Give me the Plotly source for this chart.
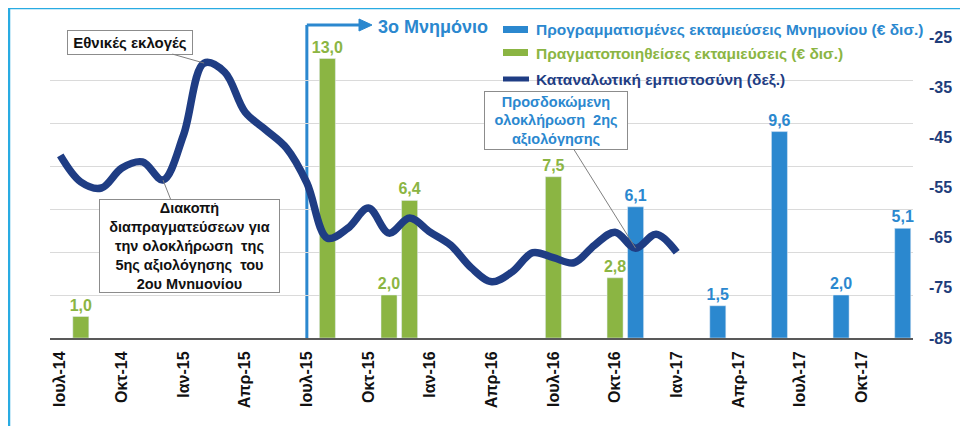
import plotly.graph_objects as go

# ---------------- data ----------------
months = ["Ιουλ-14", "Αυγ-14", "Σεπ-14", "Οκτ-14", "Νοε-14", "Δεκ-14",
          "Ιαν-15", "Φεβ-15", "Μαρ-15", "Απρ-15", "Μαϊ-15", "Ιουν-15",
          "Ιουλ-15", "Αυγ-15", "Σεπ-15", "Οκτ-15", "Νοε-15", "Δεκ-15",
          "Ιαν-16", "Φεβ-16", "Μαρ-16", "Απρ-16", "Μαϊ-16", "Ιουν-16",
          "Ιουλ-16", "Αυγ-16", "Σεπ-16", "Οκτ-16", "Νοε-16", "Δεκ-16",
          "Ιαν-17", "Φεβ-17", "Μαρ-17", "Απρ-17", "Μαϊ-17", "Ιουν-17",
          "Ιουλ-17", "Αυγ-17", "Σεπ-17", "Οκτ-17", "Νοε-17", "Δεκ-17"]
tick_labels = months[::3]

actual_months = ["Αυγ-14", "Αυγ-15", "Νοε-15", "Δεκ-15", "Ιουλ-16", "Οκτ-16"]
actual_values = [1.0, 13.0, 2.0, 6.4, 7.5, 2.8]

planned_months = ["Νοε-16", "Μαρ-17", "Ιουν-17", "Σεπ-17", "Δεκ-17"]
planned_values = [6.1, 1.5, 9.6, 2.0, 5.1]

confidence_months = months[:31]
confidence_values = [-48.6, -53.9, -55.1, -51.1, -49.9, -53.5,
                     -44.5, -30.2, -32.0, -40.0, -43.5, -47.1,
                     -54.1, -65.1, -63.1, -59.1, -64.1, -61.1,
                     -63.9, -66.5, -71.0, -73.8, -71.8, -68.0,
                     -69.0, -70.0, -66.5, -63.9, -67.1, -64.3,
                     -67.9]

right_ticks = [-85, -75, -65, -55, -45, -35, -25]

# ---------------- style ----------------
GREEN = "#8BB543"
BLUE = "#2B88CF"
NAVY = "#1F3D84"
FONT = "Arial, Liberation Sans, sans-serif"

def fmt(v):
    return f"{v:.1f}".replace(".", ",")

fig = go.Figure()

fig.add_trace(go.Bar(
    x=actual_months, y=actual_values, marker_color=GREEN,
    text=[fmt(v) for v in actual_values], textposition="outside",
    textfont=dict(color=GREEN, size=16, family=FONT, weight="bold"),
    constraintext="none", cliponaxis=False, showlegend=False, width=0.78,
))
fig.add_trace(go.Bar(
    x=planned_months, y=planned_values, marker_color=BLUE,
    text=[fmt(v) for v in planned_values], textposition="outside",
    textfont=dict(color=BLUE, size=16, family=FONT, weight="bold"),
    constraintext="none", cliponaxis=False, showlegend=False, width=0.78,
))
fig.add_trace(go.Scatter(
    x=confidence_months, y=confidence_values, yaxis="y2", mode="lines",
    line=dict(color=NAVY, width=7.5, shape="spline", smoothing=1.0),
    showlegend=False,
))

# page body has an 8px margin: figure coords = reference coords - 8
OFF = 8
W, H = 960, 418
L, R, T, B = 42, 55, 29, 88
pw, ph = W - L - R, H - T - B

def px(x):
    return (x - OFF - L) / pw

def py(y):
    return (H - B - (y - OFF)) / ph

fig.update_layout(
    width=W, height=H,
    margin=dict(l=L, r=R, t=T, b=B),
    paper_bgcolor="white", plot_bgcolor="white",
    barmode="overlay",
    font=dict(family=FONT),
    xaxis=dict(
        type="category", categoryorder="array", categoryarray=months,
        range=[-0.5, len(months) - 0.5],
        tickvals=tick_labels, ticktext=tick_labels, tickangle=-90,
        tickfont=dict(size=16, color="#111111", family=FONT, weight="bold"),
        showline=True, linecolor="#595959", linewidth=2,
        showgrid=False, ticks="", ticklabelstandoff=5,
    ),
    yaxis=dict(
        range=[0, 14], dtick=2, showticklabels=False, showgrid=True,
        gridcolor="#DADADA", gridwidth=1, zeroline=False, ticks="",
    ),
    yaxis2=dict(
        overlaying="y", side="right", range=[-85, -25],
        tickvals=right_ticks, ticktext=[str(t) for t in right_ticks],
        tickfont=dict(size=16, color="#1F3D7A", family=FONT, weight="bold"),
        showgrid=False, zeroline=False, ticks="", ticklabelstandoff=15,
    ),
)

# outer frame
fig.add_shape(type="rect", xref="paper", yref="paper",
              x0=px(9), x1=px(1100), y0=py(600), y1=py(8),
              line=dict(color="#29ABE2", width=2.5), fillcolor="rgba(0,0,0,0)")

# 3rd memorandum marker
idx = months.index("Ιουλ-15")
xp = (idx + 0.5) / len(months)
fig.add_shape(type="line", xref="x", yref="paper",
              x0="Ιουλ-15", x1="Ιουλ-15", y0=0, y1=py(25),
              line=dict(color=BLUE, width=3), layer="between")
fig.add_shape(type="line", xref="paper", yref="paper",
              x0=xp, x1=px(362), y0=py(25), y1=py(25),
              line=dict(color=BLUE, width=3))
fig.add_shape(type="path", xref="paper", yref="paper",
              path=f"M {px(372)},{py(25)} L {px(359)},{py(19)} L {px(359)},{py(31)} Z",
              fillcolor=BLUE, line=dict(color=BLUE, width=1))
fig.add_annotation(xref="paper", yref="paper", x=px(376), y=py(27),
                   text="3ο Μνημόνιο", showarrow=False, xanchor="left",
                   yanchor="middle",
                   font=dict(size=18, color=BLUE, family=FONT, weight="bold"))

# manual legend
fig.add_shape(type="rect", xref="paper", yref="paper",
              x0=px(503), x1=px(528), y0=py(33), y1=py(26),
              fillcolor=BLUE, line=dict(width=0))
fig.add_shape(type="rect", xref="paper", yref="paper",
              x0=px(503), x1=px(528), y0=py(56), y1=py(49),
              fillcolor=GREEN, line=dict(width=0))
fig.add_shape(type="line", xref="paper", yref="paper",
              x0=px(503), x1=px(529), y0=py(79), y1=py(79),
              line=dict(color=NAVY, width=5))
legend_items = [
    ("Προγραμματισμένες εκταμιεύσεις Μνημονίου (€ δισ.)", BLUE, 29),
    ("Πραγματοποιηθείσες εκταμιεύσεις (€ δισ.)", GREEN, 53),
    ("Καταναλωτική εμπιστοσύνη (δεξ.)", NAVY, 79),
]
for txt, col, yy in legend_items:
    fig.add_annotation(xref="paper", yref="paper", x=px(534), y=py(yy),
                       text=txt, showarrow=False, xanchor="left",
                       yanchor="middle",
                       font=dict(size=15.5, color=col, family=FONT, weight="bold"))

# callouts
callout_style = dict(showarrow=True, arrowhead=0, arrowwidth=1,
                     arrowcolor="#808080", bordercolor="#8C8C8C",
                     borderwidth=1, borderpad=3, bgcolor="white",
                     xref="x", yref="y2", standoff=0)
fig.add_annotation(x="Φεβ-15", y=confidence_values[months.index("Φεβ-15")],
                   ax=-74, ay=-21, text="Εθνικές εκλογές", width=118,
                   font=dict(size=15, color="#111111", family=FONT, weight="bold"),
                   **callout_style)
fig.add_annotation(x="Δεκ-14", y=confidence_values[months.index("Δεκ-14")],
                   ax=26, ay=66, width=173, height=86,
                   text="Διακοπή<br>διαπραγματεύσεων για<br>την ολοκλήρωση  της<br>5ης αξιολόγησης  του<br>2ου Μνημονίου",
                   font=dict(size=14.5, color="#111111", family=FONT, weight="bold"),
                   **callout_style)
fig.add_annotation(x="Νοε-16", y=confidence_values[months.index("Νοε-16")],
                   ax=-80, ay=-128, width=136, height=51,
                   text="Προσδοκώμενη<br>ολοκλήρωση  2ης<br>αξιολόγησης",
                   font=dict(size=14.5, color=BLUE, family=FONT, weight="bold"),
                   **callout_style)

fig.write_html("out.html")
